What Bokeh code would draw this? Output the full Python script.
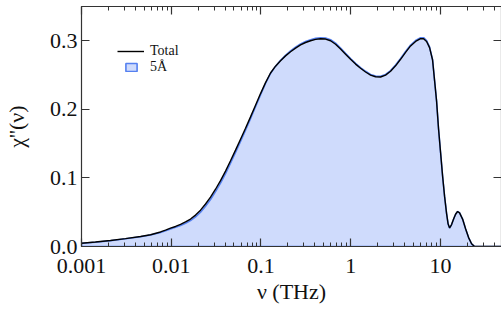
from bokeh.plotting import figure
from bokeh.models import (LogAxis, LinearAxis, FixedTicker, PrintfTickFormatter,
                          CustomJSTickFormatter, Legend, LegendItem, Range1d, LogTicker)
from bokeh.embed import file_html
from bokeh.resources import INLINE

# frequency (THz)
freq_thz = [0.00100, 0.00143, 0.00210, 0.00309, 0.00455, 0.00588, 0.00760, 0.00864,
            0.00982, 0.01117, 0.01270, 0.01443, 0.01641, 0.01866, 0.02121, 0.02412,
            0.02742, 0.03117, 0.03544, 0.04030, 0.04581, 0.05209, 0.05922, 0.06733,
            0.07655, 0.08704, 0.09897, 0.1125, 0.1279, 0.1455, 0.1654, 0.1880, 0.2138,
            0.2431, 0.2764, 0.3142, 0.3573, 0.4062, 0.4618, 0.5251, 0.5970, 0.6787,
            0.7716, 0.8772, 0.9975, 1.134, 1.289, 1.466, 1.667, 1.895, 2.154, 2.449,
            2.785, 3.166, 3.600, 4.093, 4.654, 5.291, 6.016, 6.497, 7.020, 7.578, 8.185,
            8.617, 9.071, 9.548, 10.05, 10.58, 11.14, 11.73, 12.19, 12.67, 13.33, 14.04,
            14.77, 15.55, 16.37, 17.68, 19.09, 20.63, 22.27, 24.06, 48.0]
# total susceptibility
chi_total = [0.0048, 0.0065, 0.0087, 0.0115, 0.0146, 0.0172, 0.0212, 0.0238,
             0.0267, 0.0292, 0.0322, 0.0358, 0.0400, 0.0458, 0.0530, 0.0620,
             0.0720, 0.0835, 0.0960, 0.1100, 0.1250, 0.1405, 0.1565, 0.1725,
             0.1890, 0.2060, 0.2230, 0.2390, 0.2530, 0.2630, 0.2710, 0.2780, 0.2840,
             0.2893, 0.2940, 0.2975, 0.3000, 0.3020, 0.3030, 0.3025, 0.3000, 0.2950,
             0.2880, 0.2805, 0.2730, 0.2660, 0.2600, 0.2545, 0.2500, 0.2475, 0.2472, 0.2500,
             0.2555, 0.2635, 0.2730, 0.2830, 0.2925, 0.2990, 0.3030, 0.3030, 0.2990, 0.2900, 0.2720,
             0.2420, 0.2120, 0.1710, 0.1370, 0.1030, 0.0730, 0.0480, 0.0330, 0.0270, 0.0320, 0.0400,
             0.0470, 0.0510, 0.0490, 0.0400, 0.0260, 0.0130, 0.0040, 0.0, 0.0]
# 5 Angstrom contribution
chi_5a = [0.0047, 0.0063, 0.0085, 0.0112, 0.0142, 0.0167, 0.0205, 0.0230,
          0.0257, 0.0280, 0.0307, 0.0340, 0.0378, 0.0432, 0.0500, 0.0588,
          0.0686, 0.0800, 0.0924, 0.1064, 0.1215, 0.1372, 0.1533, 0.1696,
          0.1864, 0.2038, 0.2212, 0.2377, 0.2524, 0.2630, 0.2715, 0.2788, 0.2852,
          0.2907, 0.2955, 0.2990, 0.3015, 0.3035, 0.3045, 0.3040, 0.3015, 0.2965,
          0.2895, 0.2818, 0.2742, 0.2670, 0.2610, 0.2555, 0.2510, 0.2485, 0.2482, 0.2510,
          0.2566, 0.2647, 0.2743, 0.2843, 0.2938, 0.3004, 0.3045, 0.3045, 0.3003, 0.2910, 0.2725,
          0.2420, 0.2120, 0.1710, 0.1370, 0.1030, 0.0730, 0.0480, 0.0330, 0.0270, 0.0320, 0.0400,
          0.0470, 0.0510, 0.0490, 0.0400, 0.0260, 0.0130, 0.0040, 0.0, 0.0]

x_major = [0.001, 0.01, 0.1, 1, 10]
y_major = [0.0, 0.1, 0.2, 0.3]

FONT = "'Liberation Serif', 'Times New Roman', serif"
AX = "#333333"
TXT = "#111111"

p = figure(width=501, height=312, x_axis_type="log",
           x_range=Range1d(0.001, 48), y_range=Range1d(0, 0.35),
           output_backend="svg", toolbar_location=None,
           min_border_left=81, min_border_bottom=66, min_border_top=6, min_border_right=0)
p.outline_line_color = None
p.xgrid.visible = False
p.ygrid.visible = False
p.background_fill_color = "white"

# patch for the 5A area (closed along the baseline)
px = freq_thz + [freq_thz[-1], freq_thz[0]]
py = chi_5a + [0.0, 0.0]
area = p.patch(px, py, fill_color="#cfdbfc", line_color="#5580f0", line_width=1.6)
tot = p.line(freq_thz, chi_total, line_color="black", line_width=1.4)

fmt_x = CustomJSTickFormatter(code="return String(parseFloat(tick.toPrecision(6)));")
blank = CustomJSTickFormatter(code="return ' ';")

def style_axis(ax):
    ax.axis_line_color = AX
    ax.axis_line_width = 1.2
    ax.major_tick_line_color = AX
    ax.major_tick_line_width = 1.2
    ax.minor_tick_line_color = AX
    ax.minor_tick_line_width = 1.0
    ax.major_tick_in = 8
    ax.major_tick_out = 0
    ax.minor_tick_in = 4
    ax.minor_tick_out = 0
    ax.major_label_text_font = FONT
    ax.major_label_text_font_size = "22px"
    ax.major_label_text_color = TXT
    ax.axis_label_text_font = FONT
    ax.axis_label_text_font_size = "22px"
    ax.axis_label_text_font_style = "normal"
    ax.axis_label_text_color = TXT

xa = p.xaxis[0]
xa.ticker = LogTicker(num_minor_ticks=10)
xa.formatter = fmt_x
style_axis(xa)
xa.major_label_standoff = 12
xa.axis_label = "ν (THz)"
xa.axis_label_standoff = 3

ya = p.yaxis[0]
ya.ticker = FixedTicker(ticks=y_major)
ya.formatter = PrintfTickFormatter(format="%.1f")
style_axis(ya)
ya.minor_tick_line_color = None
ya.major_label_standoff = 4
ya.axis_label = "χ''(ν)"
ya.axis_label_standoff = 18

top = LogAxis(ticker=LogTicker(num_minor_ticks=10), formatter=blank)
style_axis(top)
top.major_label_text_font_size = "1px"
top.major_label_text_alpha = 0
top.major_label_standoff = 0
p.add_layout(top, "above")

right = LinearAxis(ticker=FixedTicker(ticks=y_major), formatter=blank)
style_axis(right)
right.minor_tick_line_color = None
right.major_label_text_font_size = "1px"
right.major_label_text_alpha = 0
right.major_label_standoff = 0
p.add_layout(right, "right")

leg1 = Legend(items=[LegendItem(label="Total", renderers=[tot])],
              location=(36, 187), glyph_width=27, glyph_height=14, label_height=14,
              label_standoff=6, padding=0, margin=0, spacing=0,
              border_line_color=None, background_fill_alpha=0,
              label_text_font=FONT, label_text_font_size="14px", label_text_color=TXT)
leg2 = Legend(items=[LegendItem(label="5Å", renderers=[area])],
              location=(43, 171), glyph_width=14, glyph_height=10, label_height=14,
              label_standoff=12, padding=0, margin=0, spacing=0,
              border_line_color=None, background_fill_alpha=0,
              label_text_font=FONT, label_text_font_size="14px", label_text_color=TXT)
p.add_layout(leg1, "center")
p.add_layout(leg2, "center")

open("out.html", "w").write(file_html(p, INLINE))
